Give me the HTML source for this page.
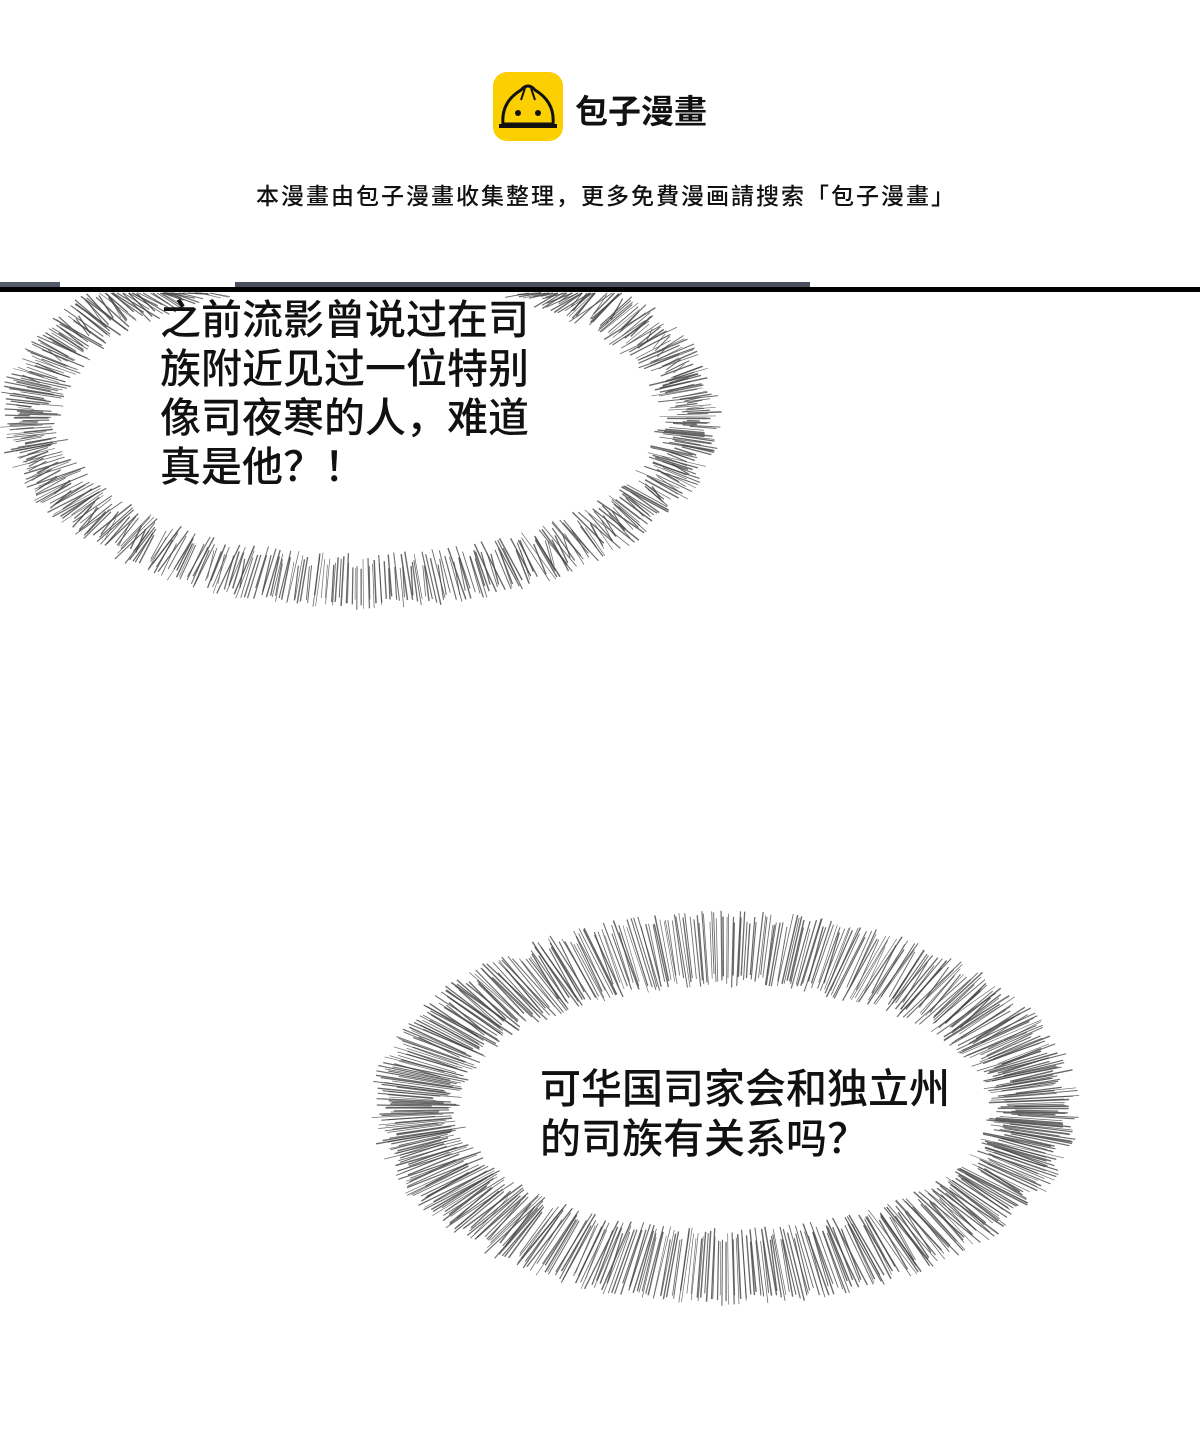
<!DOCTYPE html>
<html><head><meta charset="utf-8"><style>
html,body{margin:0;padding:0;background:#fff}
body{width:1200px;height:1442px;position:relative;overflow:hidden;font-family:"Liberation Sans","Noto Sans CJK SC",sans-serif}
.t{position:absolute;color:#111}
</style></head><body>
<div style="position:absolute;left:493px;top:72px;width:70px;height:69px;background:#fcd000;border-radius:14px"></div>
<svg style="position:absolute;left:493px;top:72px" width="70" height="69" viewBox="0 0 70 69">
<path d="M10 52 Q8 30 28 18 Q35 10 42 18 Q62 30 60 52 Z" fill="none" stroke="#111" stroke-width="3"/>
<path d="M6 54 L64 54" stroke="#111" stroke-width="4"/>
<circle cx="25" cy="41" r="3" fill="#111"/><circle cx="45" cy="41" r="3" fill="#111"/>
<path d="M32 16 Q30 22 28 28 M38 16 Q40 22 42 28" stroke="#111" stroke-width="2" fill="none"/>
</svg>
<div class="t" style="left:575px;top:85px;font-size:33px;font-weight:bold">包子漫畫</div>
<div class="t" style="left:256px;top:177px;font-size:23px;font-weight:500;white-space:nowrap;letter-spacing:2px">本漫畫由包子漫畫收集整理，更多免費漫画請搜索「包子漫畫」</div>
<div style="position:absolute;left:0;top:282px;width:60px;height:7px;background:#555a6a"></div>
<div style="position:absolute;left:235px;top:282px;width:575px;height:7px;background:#4a4e5e"></div>
<div style="position:absolute;left:0;top:287px;width:1200px;height:5px;background:#000"></div>
<svg id="s" style="position:absolute;left:0;top:0" width="1200" height="1442"></svg>
<div class="t" style="left:160px;top:296px;font-size:41px;line-height:49px;width:420px;font-weight:500">之前流影曾说过在司<br>族附近见过一位特别<br>像司夜寒的人，难道<br>真是他？！</div>
<div class="t" style="left:540px;top:1064px;font-size:41px;line-height:50px;width:460px;font-weight:500">可华国司家会和独立州<br>的司族有关系吗？</div>
<script>
var s=document.getElementById('s'),h='';
function b(cx,cy,ir,iry,or,ory,n,miny){
 var seed=1;function r(){seed=(seed*9301+49297)%233280;return seed/233280;}
 for(var i=0;i<n;i++){var a=i/n*Math.PI*2+r()*0.01;var c=Math.cos(a),sn=Math.sin(a);
  var f=0.93+r()*0.07;
  var k=1+r()*0.12;
  var x1=cx+c*ir*k,y1=cy+sn*iry*k;
  var x2=cx+c*or*f,y2=cy+sn*ory*f;
  if(y1<miny&&y2<miny)continue;
  if(y1<miny)y1=miny;if(y2<miny)y2=miny;
  h+='<line x1="'+x1.toFixed(1)+'" y1="'+y1.toFixed(1)+'" x2="'+x2.toFixed(1)+'" y2="'+y2.toFixed(1)+'" stroke="#444" stroke-width="'+(0.6+r()*0.9).toFixed(2)+'" opacity="0.8"/>';}
}
b(360,418,295,135,362,192,700,293);
b(725,1108,262,120,355,198,700,0);
s.innerHTML=h;
</script>
</body></html>
